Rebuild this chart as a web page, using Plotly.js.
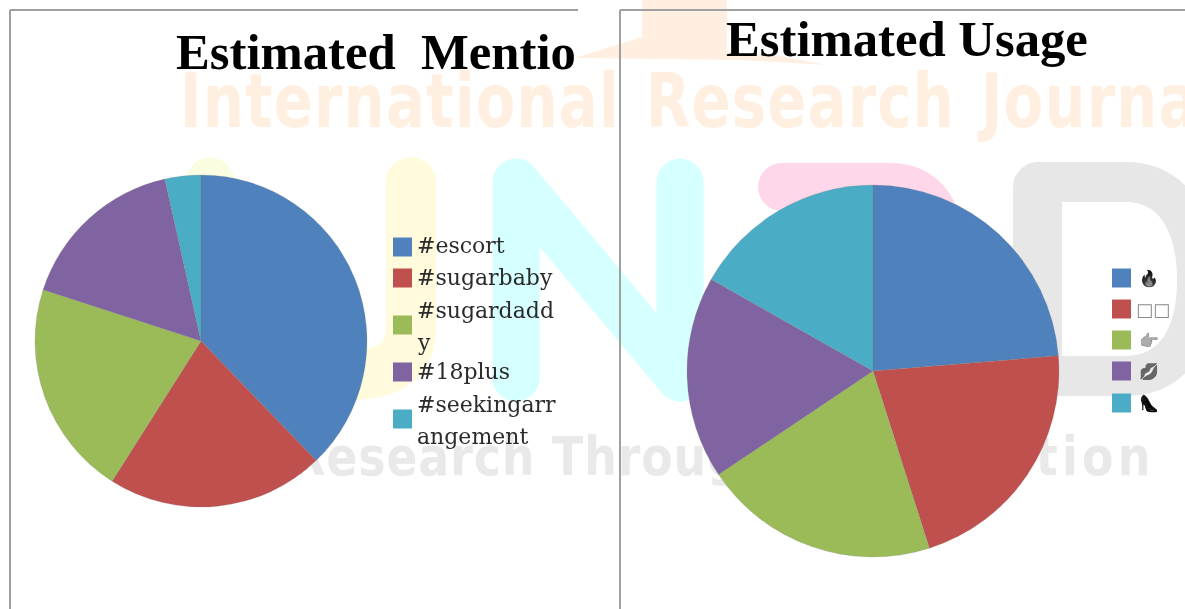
<!DOCTYPE html>
<html><head><meta charset="utf-8">
<script src="https://cdn.plot.ly/plotly-3.0.1.min.js"></script>
<style>
html,body{margin:0;padding:0;background:#fff}
#wrap{position:relative;width:1185px;height:609px;overflow:hidden;filter:blur(.7px)}
#plot{position:absolute;left:0;top:0;width:1185px;height:609px}
.wm{position:absolute;white-space:nowrap;font-family:"DejaVu Sans";font-weight:700;line-height:1}
</style></head><body>
<div id="wrap">
<div class="wm" style="left:180px;top:64px;font-size:74px;color:#ffefe0;letter-spacing:1.5px;word-spacing:6px;transform-origin:0 0;transform:scaleX(.78)">International Research Journal</div>
<div class="wm" style="left:290px;top:430px;font-size:54px;color:#e9e9e9;letter-spacing:1px;transform-origin:0 0;transform:scaleX(.85)">Research Through<span style="margin-left:48px;letter-spacing:5px"> Innovation</span></div>
<div id="plot"></div>
</div>
<script>
const W=1185,H=609;
const colors=['#4F81BD','#C0504D','#9BBB59','#8064A2','#4BACC6'];
const leftLabels=['#escort','#sugarbaby','#sugardadd<br>y','#18plus','#seekingarr<br>angement'];
const leftValues=[37.8,21.2,21.0,16.5,3.5];
const rightLabels=['🔥','□□','👉','💋','👠'];
const rightValues=[23.7,21.4,20.5,17.6,16.8];
const leftTitle='Estimated  Mentio';
const rightTitle='Estimated Usage';
const px=x=>x/W, py=y=>1-y/H;
function pie(labels,values,x0,x1,y0,y1){return {type:'pie',labels,values,sort:false,direction:'clockwise',rotation:0,
 textinfo:'none',hoverinfo:'label+percent',marker:{colors,line:{color:'rgba(120,120,120,.35)',width:.6}},
 domain:{x:[px(x0),px(x1)],y:[py(y1),py(y0)]},showlegend:false};}
const traces=[pie(leftLabels,leftValues,35,367,175,507),pie(rightLabels,rightValues,687,1059,185,557)];
const rect=(x0,y0,x1,y1,c)=>({type:'rect',xref:'paper',yref:'paper',x0:px(x0),x1:px(x1),y0:py(y0),y1:py(y1),fillcolor:c,line:{width:0},layer:'below'});
const pt=p=>px(p[0])+','+py(p[1]);
function pth(pts){return 'M'+pts.map(pt).join('L');}
const stroke=(path,c,w)=>({type:'path',xref:'paper',yref:'paper',path,fillcolor:'rgba(0,0,0,0)',line:{color:c,width:w},layer:'below'});
const wmShapes=[
 stroke(pth([[210,182],[210,350]]),'#fbfde0',49),
 stroke('M'+pt([411,182])+'L'+pt([411,330])+'C'+pt([411,360])+' '+pt([390,375])+' '+pt([350,375]),'#fffbdc',50),
 stroke(pth([[516,378],[516,182],[680,378],[680,182]]),'#d6ffff',47),
 stroke('M'+pt([782,187])+'L'+pt([890,187])+'C'+pt([915,187])+' '+pt([930,200])+' '+pt([938,225]),'#ffd7ea',48),
 stroke('M'+pt([1037,182])+'L'+pt([1125,182])+'C'+pt([1175,182])+' '+pt([1197,225])+' '+pt([1197,280])+'C'+pt([1197,335])+' '+pt([1175,376])+' '+pt([1125,376])+'L'+pt([1037,376])+'Z','#e7e7e7',40),
 stroke(pth([[1037.5,187],[1037.5,371]]),'#e7e7e7',49),
 {type:'path',xref:'paper',yref:'paper',layer:'below',fillcolor:'#ffefe0',line:{width:0},
  path:pth([[578,57],[642,37],[642,0],[727,0],[727,52],[780,56],[827,65],[740,60],[578,58]])+'Z'}
];
const bline=(x0,y0,x1,y1)=>({type:'line',xref:'paper',yref:'paper',x0:px(x0),x1:px(x1),y0:py(y0),y1:py(y1),line:{color:'#a0a0a0',width:2}});
const border=[bline(10,10,578,10),bline(10,10,10,609),bline(620,10,1185,10),bline(620,10,620,609)];
const leftY=[247,278,325,372,419], rightY=[278,309,340,371,403];
const swatches=[];
leftY.forEach((y,i)=>swatches.push(Object.assign(rect(393,y-9.5,412,y+9.5,colors[i]),{layer:'above'})));
rightY.forEach((y,i)=>swatches.push(Object.assign(rect(1112,y-9.5,1131,y+9.5,colors[i]),{layer:'above'})));
const legFont={family:'"DejaVu Serif"',size:22,color:'#2b2b2b'};
const ann=(text,x,y,font)=>({xref:'paper',yref:'paper',x:px(x),y:py(y),text,showarrow:false,xanchor:'left',yanchor:'middle',align:'left',font,borderpad:0});
const titleFont={family:'"Liberation Serif"',size:50.7,color:'#000',weight:700};
const annotations=[ann(leftTitle,175,52,titleFont),ann(rightTitle,725,39,titleFont)];
leftY.forEach((y,i)=>{
 const parts=leftLabels[i].split('<br>');
 parts.forEach((t,j)=>annotations.push(ann(t,416,(parts.length>1?y+1:y-1)+(j-(parts.length-1)/2)*32,legFont)));
});
rightY.forEach((y,i)=>annotations.push(ann(rightLabels[i],i===1?1135:1138,y,{family:'"DejaVu Sans"',size:i===1?18:16,color:i===1?'#8a8a8a':'#222'})));
const layout={width:W,height:H,margin:{l:0,r:0,t:0,b:0},paper_bgcolor:'rgba(0,0,0,0)',plot_bgcolor:'rgba(0,0,0,0)',showlegend:false,
 shapes:wmShapes.concat(border,swatches),annotations};
Plotly.newPlot('plot',traces,layout,{displayModeBar:false,staticPlot:true}).then(gd=>{
 gd.querySelectorAll('.annotation-text').forEach(n=>{
  const t=n.textContent;
  if(t==='🔥'||t==='👠') n.style.filter='grayscale(1) brightness(.55) contrast(1.6)';
  if(t==='👉'||t==='💋') n.style.filter='grayscale(1) brightness(.75) opacity(.8)';
 });
 gd.querySelectorAll('.shapelayer path').forEach(p=>{
  if(parseFloat(p.style.strokeWidth)>=30){p.style.strokeLinecap='round';p.style.strokeLinejoin='round';}
 });
});
</script></body></html>
